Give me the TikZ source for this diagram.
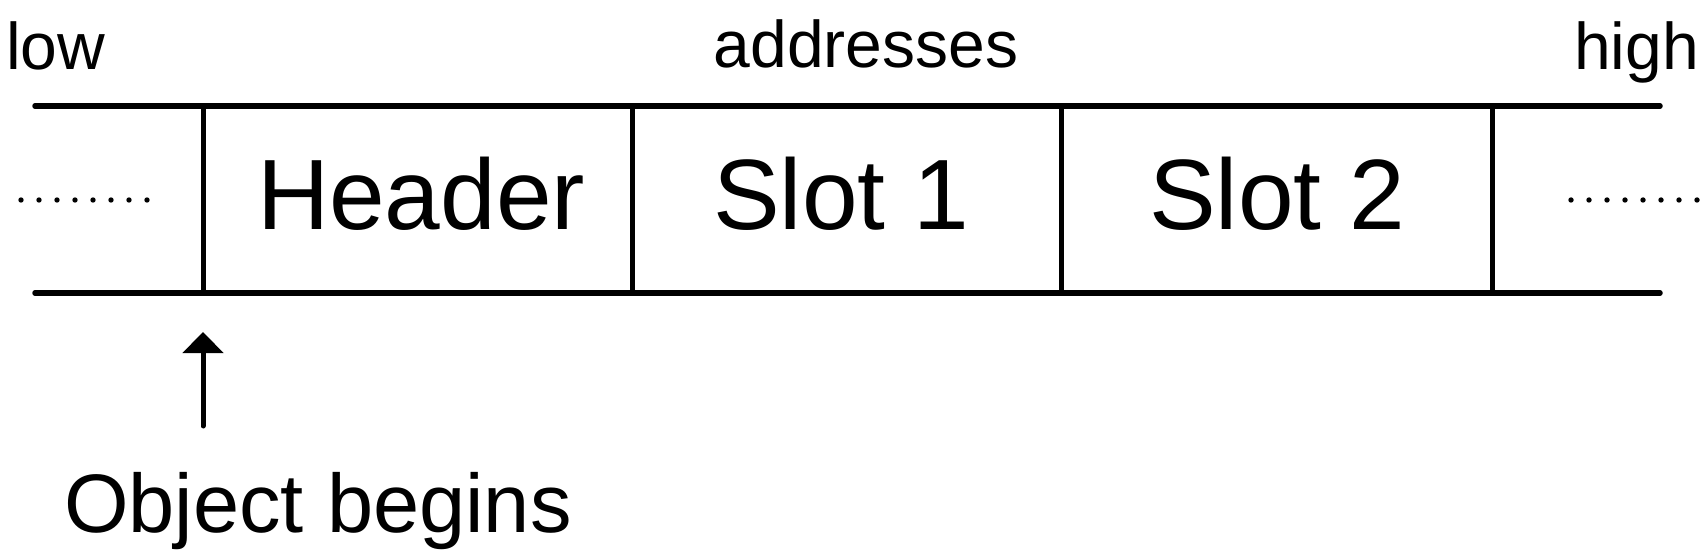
\documentclass[tikz,border=0pt]{standalone}
\usepackage{fontspec}
\setmainfont{Liberation Sans}
\usetikzlibrary{arrows.meta}
\tikzset{
  memline/.style={line width=5.5pt, line cap=round, black},
  divline/.style={line width=5pt, black},
  smalltxt/.style={inner sep=0pt, font=\fontsize{66}{70}\selectfont},
  celltxt/.style={inner sep=0pt, anchor=base, font=\fontsize{100}{110}\selectfont},
  bigtxt/.style={inner sep=0pt, font=\fontsize{83}{90}\selectfont},
  dotmark/.style={fill=black, draw=none},
  pointer/.style={line width=5pt, line cap=round, -{Triangle[width=40pt,length=21pt]}}
}
\begin{document}
\begin{tikzpicture}[x=1pt,y=-1pt]
\useasboundingbox (0,0) rectangle (1706,556);
% corners of memory strip
\coordinate (tl) at (35,106);
\coordinate (tr) at (1660,106);
\coordinate (bl) at (35,293);
\coordinate (br) at (1660,293);
\draw[memline] (tl) -- (tr);
\draw[memline] (bl) -- (br);
% dividers
\foreach \n/\x in {a/203,b/632,c/1061,d/1492}{
  \coordinate (t\n) at (\x,106);
  \coordinate (b\n) at (\x,293);
  \draw[divline] (t\n) -- (b\n);
}
% dots
\foreach \i in {0,...,7}{
  \fill[dotmark] (21+\i*18,200) circle (2.7);
  \fill[dotmark] (1571+\i*18,200) circle (2.7);
}
% labels
\node[smalltxt, anchor=base west] (low) at (6,70) {low};
\node[smalltxt, anchor=base east] (high) at (1699,70) {high};
\node[smalltxt, anchor=base] (addr) at (866,68) {addresses};
\node[celltxt] (header) at (421,230) {Header};
\node[celltxt] (slot1) at (841,230) {Slot 1};
\node[celltxt] (slot2) at (1277,230) {Slot 2};
\node[bigtxt, anchor=base west] (objbeg) at (64,532) {Object begins};
% arrow
\coordinate (arrtail) at (203,426);
\coordinate (arrtip) at (203,332);
\draw[pointer] (arrtail) -- (arrtip);
\end{tikzpicture}
\end{document}
